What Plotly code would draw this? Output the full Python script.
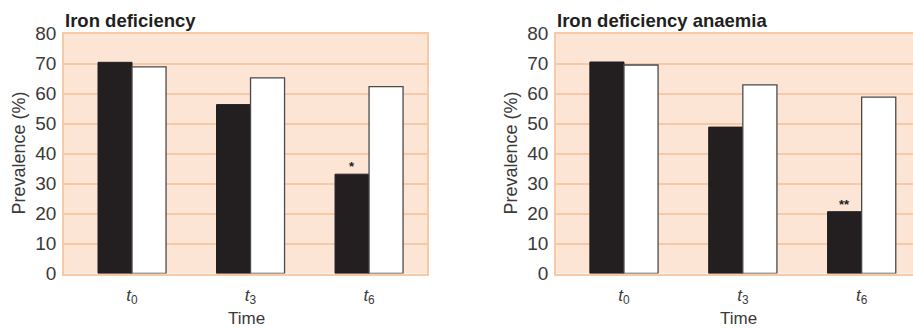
import plotly.graph_objects as go

# ---- data ----
categories = ["t0", "t3", "t6"]
tick_labels = ["<i>t</i><sub>0</sub>", "<i>t</i><sub>3</sub>", "<i>t</i><sub>6</sub>"]
id_black = [70.4, 56.3, 33.1]
id_white = [68.9, 65.2, 62.3]
ida_black = [70.5, 48.8, 20.6]
ida_white = [69.5, 62.9, 58.8]
panel_titles = ["Iron deficiency", "Iron deficiency anaemia"]
sig_marks = ["*", "**"]
y_ticks = [0, 10, 20, 30, 40, 50, 60, 70, 80]

W, H = 913, 328
BG = "#FDE5D6"
GRID = "#F8C9A6"
BLACK = "#231F20"
TXT = "#3a3a3a"
FONT = "Liberation Sans, Arial, sans-serif"

xpos = list(range(len(categories)))

fig = go.Figure()

panels = [
    dict(black=id_black, white=id_white, xa="x", ya="y", dom=[64 / W, 427 / W], rng=[-0.574, 2.489]),
    dict(black=ida_black, white=ida_white, xa="x2", ya="y2", dom=[556 / W, 1.0], rng=[-0.572, 2.432]),
]

ydom = [1 - 273.5 / H, 1 - 33.5 / H]

for i, p in enumerate(panels):
    fig.add_trace(go.Bar(x=xpos, y=p["black"], xaxis=p["xa"], yaxis=p["ya"],
                         marker=dict(color=BLACK, line=dict(color=BLACK, width=1)),
                         showlegend=False, hoverinfo="skip"))
    fig.add_trace(go.Bar(x=xpos, y=p["white"], xaxis=p["xa"], yaxis=p["ya"],
                         marker=dict(color="white", line=dict(color="#4a4a4a", width=1.3)),
                         showlegend=False, hoverinfo="skip"))

axis_common_x = dict(
    tickmode="array", tickvals=xpos, ticktext=tick_labels,
    tickfont=dict(family=FONT, size=17, color=TXT),
    showgrid=False, zeroline=False, showline=True, linecolor=GRID, linewidth=1.5,
    mirror=True, ticks="", ticklabelstandoff=5, fixedrange=True, automargin=False,
)
axis_common_y = dict(
    range=[0, 80], tickmode="array", tickvals=y_ticks,
    tickfont=dict(family=FONT, size=19, color=TXT),
    showgrid=True, gridcolor=GRID, gridwidth=1.5, zeroline=False,
    showline=True, linecolor=GRID, linewidth=1.5, mirror=True,
    ticks="", ticklabelstandoff=2, domain=ydom, fixedrange=True, automargin=False,
)

fig.update_layout(
    width=W, height=H, margin=dict(l=0, r=0, t=0, b=0, pad=0, autoexpand=False),
    paper_bgcolor="white", plot_bgcolor=BG, showlegend=False,
    barmode="group", bargap=0.426, bargroupgap=0,
    xaxis=dict(domain=panels[0]["dom"], range=panels[0]["rng"], anchor="y", **axis_common_x),
    yaxis=dict(anchor="x", **axis_common_y),
    xaxis2=dict(domain=panels[1]["dom"], range=panels[1]["rng"], anchor="y2", **axis_common_x),
    yaxis2=dict(anchor="x2", **axis_common_y),
)

annotations = []
for i, p in enumerate(panels):
    # panel title
    annotations.append(dict(text="<b>" + panel_titles[i] + "</b>", xref="paper", yref="paper",
                            x=p["dom"][0] - 1 / W, y=1 - 20.5 / H, xanchor="left", yanchor="middle",
                            showarrow=False, font=dict(family=FONT, size=18.5, color=BLACK)))
    # y title
    annotations.append(dict(text="Prevalence (%)", xref="paper", yref="paper",
                            x=p["dom"][0] - 46 / W, y=(ydom[0] + ydom[1]) / 2,
                            xanchor="center", yanchor="middle", textangle=-90,
                            showarrow=False, font=dict(family=FONT, size=18, color=TXT)))
    # x title
    annotations.append(dict(text="Time", xref=p["xa"], yref="paper", x=1, xshift=-4,
                            y=1 - 318.5 / H, xanchor="center", yanchor="middle",
                            showarrow=False, font=dict(family=FONT, size=17, color=TXT)))
    # significance mark
    annotations.append(dict(text="<b>" + sig_marks[i] + "</b>", xref=p["xa"], yref=p["ya"],
                            x=2 - 0.1435, y=p["black"][2], xanchor="center", yanchor="bottom",
                            yshift=-2, showarrow=False, font=dict(family=FONT, size=13, color=BLACK)))

fig.update_layout(annotations=annotations)

fig.write_html("out.html", config={"displayModeBar": False},
               post_script="document.body.style.margin='0';document.body.style.overflow='hidden';")
